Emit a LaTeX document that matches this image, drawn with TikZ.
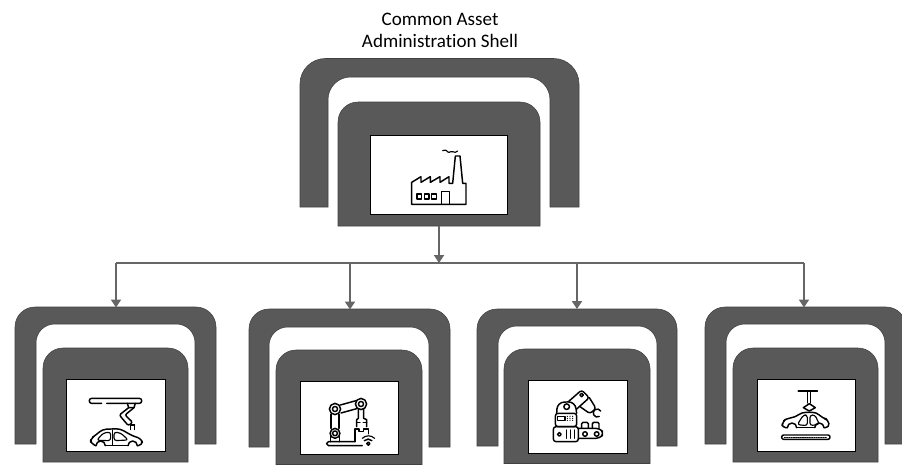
\documentclass[tikz,border=0pt]{standalone}
\usepackage{fontspec}
\setmainfont[Ligatures=NoCommon]{Carlito}
\usetikzlibrary{fit,arrows.meta}
\definecolor{shellgrey}{HTML}{595959}
\definecolor{shelledge}{HTML}{404040}
\definecolor{linkgrey}{HTML}{666666}
\tikzset{
  shellfill/.style={fill=shellgrey,draw=shelledge,line width=0.4pt},
  screenbox/.style={draw=black,fill=white,line width=0.75pt,inner sep=0pt,rectangle},
  link/.style={draw=linkgrey,line width=2pt},
  linkarrow/.style={link,-{Triangle[length=6pt,width=7.5pt]}},
  icon/.style={draw=black,line width=1.1pt,line join=round,line cap=round,fill=none},
  thinicon/.style={draw=black,line width=0.85pt,line join=round,line cap=round,fill=none},
  title/.style={align=center,font=\fontsize{14.3pt}{16.9pt}\selectfont,text=black,inner sep=0pt}
}
% #1 x1, #2 x2, #3 top, #4 bottom, #5 inner x1, #6 inner x2, #7 inner top, #8 outer radius, #9 inner radius
\newcommand{\archshape}[9]{%
  \path[shellfill] (#1,#4) [rounded corners=#8] -- (#1,#3) -- (#2,#3) [sharp corners] -- (#2,#4) -- (#6,#4)
    [rounded corners=#9] -- (#6,#7) -- (#5,#7) [sharp corners] -- (#5,#4) -- cycle;}
% #1 x1, #2 x2, #3 top, #4 bottom, #5 radius
\newcommand{\blockshape}[5]{%
  \path[shellfill] (#1,#4) [rounded corners=#5] -- (#1,#3) -- (#2,#3) [sharp corners] -- (#2,#4) -- cycle;}
\newcommand{\factoryicon}{%
 \begin{scope}[shift={(290,0)},x=0.25pt,y=-0.25pt]
  \draw[icon] (365,547) -- (365,613) -- (528,613) -- (528,550) -- (518,550) -- (510,468) -- (496,468) -- (488,550)
     -- (477,550) -- (477,530) -- (450,547) -- (450,530) -- (421,547) -- (421,530) -- (393,547) -- (393,530) -- cycle;
  \draw[thinicon] (458,452) .. controls (465,448) and (470,450) .. (474,456) .. controls (478,461) and (483,450) .. (488,455) .. controls (493,461) and (498,455) .. (503,453);
  \foreach \w in {381,403,425} \draw[thinicon] (\w,582) rectangle ++(14,15);
  \draw[icon] (455,613) -- (455,574) -- (478,574) -- (478,613);
 \end{scope}}
\newcommand{\paintcaricon}{%
 \begin{scope}[shift={(70,385)},x=0.25pt,y=-0.25pt]
  \draw[icon,rounded corners=1.7pt] (110,55) -- (215,55) -- (215,40) -- (58,40) -- (58,55) -- (95,55);
  \draw[icon] (172,55) -- (176,68) -- (192,68) -- (196,55);
  \draw[icon,rounded corners=1.5pt] (176,68) -- (148,90) -- (175,122) -- (188,112) -- (165,90) -- (192,68);
  \draw[thinicon] (182,120) -- (182,134) (194,120) -- (194,134) (182,120) -- (194,120);
  \draw[icon,rounded corners=3pt] (78,182) -- (62,176) -- (62,160) -- (78,150) -- (97,133) -- (150,131) -- (188,153) -- (215,161) -- (218,180) -- (202,182);
  \draw[icon] (202,182) arc[start angle=0,end angle=180,radius=3.5pt];
  \draw[icon] (174,182) -- (106,182);
  \draw[icon] (106,182) arc[start angle=0,end angle=180,radius=3.5pt];
  \draw[thinicon,rounded corners=2pt] (80,166) -- (100,144) -- (122,141) -- (122,167) -- cycle;
  \draw[thinicon,rounded corners=2pt] (132,141) -- (152,144) -- (175,165) -- (132,167) -- cycle;
  \draw[thinicon] (127,135) -- (127,180);
 \end{scope}}
\newcommand{\roboticon}{%
 \begin{scope}[shift={(305,385)},x=0.25pt,y=-0.25pt]
  \draw[icon,rounded corners=1.4pt] (172,182) -- (65,182) -- (65,170) -- (150,170);
  \draw[icon] (90,145) circle[radius=3.7pt] (90,145) circle[radius=1.8pt];
  \draw[icon] (77,170) -- (77,145) (103,170) -- (103,145);
  \draw[icon] (78,130) -- (78,88) (102,130) -- (102,88);
  \draw[icon] (90,72) circle[radius=4.2pt] (90,72) circle[radius=1.9pt];
  \draw[icon] (106,60) -- (153,47) (108,84) -- (155,71);
  \draw[icon] (168,57) circle[radius=4.2pt] (168,57) circle[radius=1.9pt];
  \draw[icon] (160,73) -- (160,100) -- (155,104) -- (155,125) (176,73) -- (176,100) -- (185,104) -- (185,125);
  \draw[icon] (155,112) -- (165,112) (175,112) -- (185,112);
  \draw[icon] (150,170) -- (150,132) -- (162,132) -- (162,140) -- (176,140) -- (176,132) -- (190,132) -- (190,146);
  \draw[icon] (178,167) arc[start angle=135,end angle=45,radius=4pt];
  \draw[thinicon] (172,160) arc[start angle=135,end angle=45,radius=6.5pt];
  \draw[icon] (190,176) circle[radius=1.2pt];
 \end{scope}}
\newcommand{\machineicon}{%
 \begin{scope}[shift={(530,385)},x=0.25pt,y=-0.25pt]
  \draw[icon,rounded corners=2pt] (70,170) rectangle (145,125);
  \draw[icon] (88,148) circle[radius=1.4pt];
  \foreach \s in {110,122,134} \draw[thinicon] (\s,135) -- (\s,160);
  \draw[icon,rounded corners=2pt] (76,125) rectangle (140,85);
  \draw[thinicon] (82,95) rectangle (105,106);
  \foreach \s in {112,120,128} \foreach \t in {94,100,106} \fill (\s,\t) circle[radius=0.45pt];
  \draw[icon,rounded corners=5pt] (80,85) -- (82,52) -- (135,50) -- (140,85);
  \draw[icon] (110,65) circle[radius=2.1pt];
  \draw[icon,rounded corners=2pt] (115,50) -- (155,15) -- (178,38) -- (140,72);
  \draw[icon] (155,30) circle[radius=1.3pt];
  \draw[icon,rounded corners=2pt] (178,38) -- (198,70) -- (180,86) -- (150,65);
  \draw[icon] (212,78) arc[start angle=30,end angle=300,radius=3pt];
  \draw[icon,rounded corners=3pt] (145,130) -- (210,130) -- (222,145) -- (210,160) -- (145,160);
  \draw[icon] (165,147) circle[radius=1.7pt] (200,147) circle[radius=1.7pt];
  \draw[icon,rounded corners=1pt] (155,130) -- (155,112) -- (175,112) -- (175,130);
  \draw[icon,rounded corners=1pt] (187,130) -- (187,112) -- (207,112) -- (207,130);
 \end{scope}}
\newcommand{\hangcaricon}{%
 \begin{scope}[shift={(760,385)},x=0.25pt,y=-0.25pt]
  \draw[icon,line width=1.3pt] (115,17) -- (172,17);
  \draw[icon] (143,22) -- (143,54) (152,22) -- (152,54);
  \draw[icon] (148,56) -- (166,68) -- (148,78) -- (130,68) -- cycle;
  \draw[icon,rounded corners=3pt] (82,128) -- (65,128) -- (68,110) -- (80,100) -- (105,97) -- (125,82) -- (170,82) -- (188,100) -- (205,103) -- (208,128) -- (192,128);
  \draw[icon] (192,128) arc[start angle=0,end angle=180,radius=3.5pt];
  \draw[icon] (164,128) -- (110,128);
  \draw[icon] (110,128) arc[start angle=0,end angle=180,radius=3.5pt];
  \draw[thinicon,rounded corners=2pt] (112,119) -- (130,90) -- (142,90) -- (142,122) -- cycle;
  \draw[thinicon,rounded corners=2pt] (150,90) -- (165,90) -- (178,118) -- (150,122) -- cycle;
  \draw[icon,rounded corners=1.5pt] (65,150) rectangle (210,163);
  \draw[thinicon,dash pattern=on 0.8pt off 0.9pt] (73,156.5) -- (202,156.5);
 \end{scope}}
\begin{document}
\begin{tikzpicture}[x=0.75pt,y=-0.75pt]
  \clip (0,0) rectangle (902,464);
  \fill[white] (0,0) rectangle (902,464);
  \node[title] (titletext) at (440,30.5) {Common Asset\\Administration Shell};

  % central shell
  \archshape{300}{579}{58.5}{207}{328}{550}{77}{19pt}{17pt}
  \blockshape{338}{540}{102}{226}{15pt}
  \node[screenbox,fit={(370,135)(507,214)}] (hubscreen) {};
  \coordinate (hubout) at (439,226);
  \factoryicon

  % lower shells
  \archshape{15}{216}{307}{444}{36}{195}{324}{15pt}{14pt}
  \blockshape{43}{188}{348}{462}{15pt}
  \node[screenbox,fit={(66,379)(165,451)}] (screenA) {};
  \coordinate (inA) at (116,307.5);
  \paintcaricon

  \archshape{249}{450}{309}{447}{269}{429}{327}{15pt}{14pt}
  \blockshape{276}{422}{350}{464.5}{15pt}
  \node[screenbox,fit={(300,381)(398,454)}] (screenB) {};
  \coordinate (inB) at (350,309.5);
  \roboticon

  \archshape{477}{677}{309}{446}{498}{657}{326}{15pt}{14pt}
  \blockshape{504}{650}{349}{463.5}{15pt}
  \node[screenbox,fit={(528,380)(627,453)}] (screenC) {};
  \coordinate (inC) at (577,309);
  \machineicon

  \archshape{705}{906}{307}{444}{726}{885}{324}{15pt}{14pt}
  \blockshape{733}{878}{348}{462}{15pt}
  \node[screenbox,fit={(757,379)(855,451)}] (screenD) {};
  \coordinate (inD) at (804,307.5);
  \hangcaricon

  % connectors
  \coordinate (bus) at (439,263);
  \draw[linkarrow] (hubout) -- (bus);
  \draw[link] (inA |- bus) -- (inD |- bus);
  \draw[linkarrow] (inA |- bus) -- (inA);
  \draw[linkarrow] (inB |- bus) -- (inB);
  \draw[linkarrow] (inC |- bus) -- (inC);
  \draw[linkarrow] (inD |- bus) -- (inD);
\end{tikzpicture}
\end{document}
